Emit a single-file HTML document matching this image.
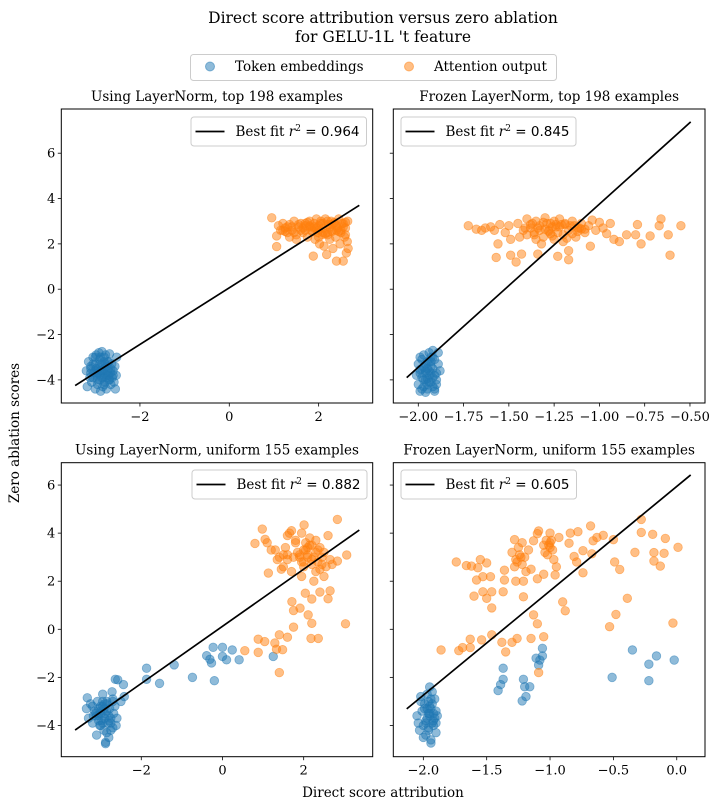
<!DOCTYPE html>
<html><head><meta charset="utf-8">
<style>
html,body{margin:0;padding:0;background:#fff;}
svg{display:block;font-family:"DejaVu Serif","Liberation Serif",serif;}
</style></head>
<body>
<svg id="fig" width="725" height="810" viewBox="0 0 725 810" xmlns="http://www.w3.org/2000/svg">
<text x="383" y="23" font-size="15.5" text-anchor="middle">Direct score attribution versus zero ablation</text>
<text x="383" y="42" font-size="15.5" text-anchor="middle">for GELU-1L 't feature</text>
<g>
<rect x="190.5" y="54.5" width="366" height="26" rx="3" fill="#fff" stroke="#ccc"/>
<g>
<circle cx="210" cy="66.5" r="4.5" fill="#1f77b4" fill-opacity="0.5" stroke="#1f77b4" stroke-opacity="0.5"/>
<text x="235" y="71" font-size="13.5">Token embeddings</text></g>
<g>
<circle cx="409" cy="66.5" r="4.5" fill="#ff7f0e" fill-opacity="0.5" stroke="#ff7f0e" stroke-opacity="0.5"/>
<text x="434" y="71" font-size="13.5">Attention output</text></g>
</g>
<text transform="translate(19,433) rotate(-90)" font-size="13.5" text-anchor="middle">Zero ablation scores</text>
<text x="383" y="797" font-size="13.5" text-anchor="middle">Direct score attribution</text>
</svg>
<script>
// ---------- Panel 1 data: Using LayerNorm, top 198 ----------
const p1BlueX = [-3.2,-3.18,-3.15,-3.12,-3.1,-3.08,-3.05,-3.03,-3.0,-3.0,-2.98,-2.96,-2.95,-2.93,-2.92,-2.9,-2.9,-2.88,-2.87,-2.85,-2.85,-2.83,-2.82,-2.8,-2.8,-2.78,-2.77,-2.75,-2.75,-2.73,-2.72,-2.7,-2.7,-2.68,-2.66,-2.65,-2.63,-2.62,-2.6,-2.58,-2.56,-2.55,-2.53,-2.52,-3.1,-3.0,-2.9,-2.8,-2.7,-2.95,-2.85,-3.05,-3.0,-2.9,-2.8,-2.7,-2.95,-2.85,-2.75,-2.65,-3.05,-2.9,-2.8,-2.72,-2.88,-2.78,-2.98,-2.68,-2.6,-3.1];
const p1BlueY = [-3.6,-4.3,-3.2,-3.9,-3.5,-4.1,-3.0,-3.7,-4.4,-3.3,-2.9,-3.8,-4.2,-3.5,-2.8,-4.0,-3.1,-4.5,-3.6,-2.75,-3.3,-4.3,-3.9,-3.0,-3.7,-4.1,-2.9,-3.4,-4.4,-3.8,-3.2,-4.0,-3.5,-2.85,-3.7,-4.2,-3.3,-3.9,-3.6,-4.1,-3.4,-4.4,-3.8,-3.0,-3.4,-3.6,-3.8,-3.5,-3.2,-4.0,-3.9,-3.3,-3.0,-3.3,-3.2,-3.8,-3.7,-3.6,-3.9,-3.5,-3.9,-3.6,-4.2,-3.6,-3.0,-3.3,-3.5,-4.0,-3.8,-3.7];
const p1OrangeX = [0.95,1.06,1.06,1.1,1.15,1.2,1.25,1.3,1.35,1.4,1.45,1.5,1.55,1.6,1.65,1.7,1.75,1.8,1.85,1.88,1.9,1.92,1.95,1.98,2.0,2.02,2.05,2.08,2.1,2.12,2.15,2.18,2.2,2.22,2.25,2.28,2.3,2.32,2.35,2.38,2.4,2.42,2.45,2.48,2.5,2.52,2.55,2.58,2.6,2.62,2.64,2.66,2.6,2.55,2.65,1.5,1.7,2.0,2.3,1.35,1.9,2.1,2.4,1.8,2.2,1.2,1.3,1.45,1.55,1.65,1.75,1.85,1.95,2.05,2.15,2.25,2.35,2.45,2.55,1.6,1.8,2.0,2.2,2.4,1.7,1.9,2.1,2.3,2.5,1.4,1.25,2.6];
const p1OrangeY = [3.15,2.35,1.88,2.8,2.6,2.9,2.7,2.5,2.85,2.6,3.0,2.4,2.75,2.9,2.5,2.8,2.3,3.0,2.6,1.46,2.9,2.2,3.1,2.5,2.8,2.0,3.0,2.4,2.7,1.9,3.1,1.53,2.5,2.85,2.2,3.0,2.6,1.8,2.9,2.3,1.24,2.7,3.1,2.0,2.5,2.9,1.24,2.3,2.7,1.6,2.1,1.8,2.4,2.9,3.0,2.2,2.6,2.3,2.85,2.3,2.7,2.9,2.6,2.75,2.4,2.6,2.75,2.5,2.85,2.7,2.95,2.55,2.7,2.9,2.45,2.75,2.95,2.55,2.75,2.6,2.8,2.6,3.0,2.8,2.9,2.75,2.5,2.55,2.6,2.75,2.55,2.95];
const p1LineX = [-3.45, 2.91];
const p1LineY = [-4.25, 3.70];
const p1XTicks = [-2, 0, 2];
const p1XTickLabels = ["−2", "0", "2"];
const yTicksTop = [-4, -2, 0, 2, 4, 6];
const yTickLabelsTop = ["−4", "−2", "0", "2", "4", "6"];

// ---------- Panel 2 data: Frozen LayerNorm, top 198 ----------
const p2BlueX = [-2.01,-2.0,-2.0,-1.99,-1.99,-1.98,-1.98,-1.97,-1.97,-1.96,-1.96,-1.95,-1.95,-1.94,-1.94,-1.93,-1.93,-1.92,-1.92,-1.91,-1.91,-1.9,-1.9,-1.89,-1.89,-1.88,-1.97,-1.95,-1.93,-1.91,-1.96,-1.94,-1.92,-1.99,-1.9,-1.98,-1.96,-1.94,-1.92,-1.95,-1.93,-1.97,-1.91,-1.99,-1.95,-1.93,-1.96,-1.94,-1.92,-1.98];
const p2BlueY = [-3.8,-4.2,-3.3,-4.5,-3.0,-3.9,-3.5,-4.3,-2.9,-3.7,-4.0,-3.2,-4.4,-3.6,-2.8,-4.1,-3.4,-3.9,-2.7,-4.5,-3.1,-3.7,-4.2,-3.3,-2.8,-3.6,-3.45,-3.95,-3.0,-4.4,-4.55,-3.2,-3.5,-3.55,-4.0,-3.1,-3.3,-3.8,-3.0,-3.5,-3.7,-4.0,-3.8,-3.7,-4.2,-3.2,-3.6,-4.1,-4.3,-4.4];
const p2OrangeX = [-1.724,-1.68,-1.63,-1.58,-1.55,-1.56,-1.57,-1.49,-1.46,-1.43,-1.49,-1.34,-1.23,-1.17,-1.17,-1.05,-0.89,-0.77,-0.72,-0.62,-0.61,-0.55,-0.66,-0.67,-0.79,-0.8,-0.85,-0.92,-0.94,-1.0,-1.5,-1.45,-1.42,-1.4,-1.38,-1.36,-1.35,-1.33,-1.31,-1.3,-1.28,-1.27,-1.25,-1.24,-1.22,-1.2,-1.19,-1.17,-1.15,-1.13,-1.11,-1.1,-1.08,-1.06,-1.04,-1.02,-1.4,-1.35,-1.3,-1.25,-1.2,-1.15,-1.1,-1.37,-1.32,-1.27,-1.22,-1.18,-1.12,-1.44,-1.52,-1.6,-1.65,-0.98,-0.96,-1.38,-1.34,-1.29,-1.26,-1.21,-1.16,-1.12,-1.08,-1.33,-1.28,-1.23,-1.19,-1.14,-1.41,-1.36,-1.31,-1.26,-1.24];
const p2OrangeY = [2.8,2.65,2.7,2.6,2.85,2.0,1.4,1.5,1.2,1.55,2.2,1.55,1.45,1.3,1.7,1.9,2.1,2.0,2.35,2.4,1.5,2.8,3.1,2.8,2.85,2.4,2.4,2.2,2.9,2.95,2.8,2.9,2.6,3.1,2.7,2.5,3.0,2.8,2.3,3.15,2.6,2.9,2.2,2.75,3.1,2.4,2.85,2.6,3.0,2.3,2.7,2.9,2.5,2.8,3.05,2.6,2.4,2.2,2.65,3.0,2.1,2.45,2.65,2.9,2.0,2.45,2.75,2.25,2.55,2.3,2.5,2.75,2.6,2.7,2.45,2.85,2.7,2.9,2.75,2.85,2.8,2.7,2.65,2.6,2.55,2.5,2.9,2.8,2.7,2.4,2.95,2.35,2.85];
const p2LineX = [-2.064, -0.496];
const p2LineY = [-3.90, 7.38];
const p2XTicks = [-2.0, -1.75, -1.5, -1.25, -1.0, -0.75, -0.5];
const p2XTickLabels = ["−2.00", "−1.75", "−1.50", "−1.25", "−1.00", "−0.75", "−0.50"];

// ---------- Panel 3 data: Using LayerNorm, uniform 155 ----------
const p3BlueX = [-1.87,-1.87,-1.55,-1.19,-0.74,-0.2,-0.39,-0.31,-0.23,0.0,0.0,0.1,0.24,0.41,-0.27,1.25,-2.64,-2.58,-2.44,-2.42,-2.5,-3.33,-3.35,-3.3,-3.25,-3.2,-3.15,-3.1,-3.08,-3.05,-3.02,-3.0,-2.98,-2.95,-2.92,-2.9,-2.88,-2.85,-2.82,-2.8,-2.78,-2.75,-2.72,-2.7,-2.68,-2.65,-2.62,-2.6,-3.12,-3.0,-2.9,-2.8,-2.95,-3.05,-2.85,-2.75,-3.18,-2.92,-3.0,-2.7,-2.88,-3.05,-2.95,-2.85,-2.9,-3.0,-2.8,-3.1,-2.95,-2.85,-2.75,-3.2,-2.7];
const p3BlueY = [-1.62,-2.08,-2.25,-1.48,-2.0,-2.14,-1.1,-1.25,-0.75,-0.75,-1.13,-1.27,-0.86,-1.27,-1.4,-1.13,-2.08,-2.1,-2.3,-2.8,-3.0,-2.85,-3.3,-3.7,-3.1,-3.9,-3.4,-4.4,-3.0,-3.6,-4.0,-3.2,-3.8,-2.7,-4.2,-3.5,-4.7,-3.0,-3.9,-4.5,-3.3,-3.7,-2.6,-4.1,-3.5,-3.2,-4.0,-3.7,-3.5,-3.4,-3.1,-3.6,-3.9,-3.8,-4.3,-4.2,-3.6,-3.3,-4.0,-3.0,-4.76,-3.3,-3.2,-3.4,-3.7,-3.5,-3.8,-3.6,-3.0,-3.1,-3.9,-3.2,-2.9];
const p3OrangeX = [2.83,0.98,2.01,0.8,1.05,3.06,2.83,1.13,1.71,1.75,1.91,2.04,2.2,2.11,2.2,1.75,3.03,2.18,2.36,2.4,2.6,2.65,1.4,1.6,0.88,1.04,0.88,0.55,1.29,1.48,1.33,1.4,1.3,1.4,1.5,1.6,1.7,1.8,1.9,2.0,2.1,2.2,2.3,2.4,2.5,2.6,2.7,1.35,1.55,1.75,1.95,2.15,2.35,2.55,1.45,1.65,1.85,2.05,2.25,2.45,2.65,1.2,1.1,1.95,2.1,2.3,1.8,2.0,2.2,1.6,2.4,2.5,1.9,1.7,2.05,2.15,2.25,2.35,1.95,2.1,2.3,2.45,1.5,1.6,2.2,2.0];
const p3OrangeY = [4.57,4.17,4.34,3.57,3.74,3.09,2.84,2.34,1.15,0.78,0.88,1.5,1.26,0.6,0.25,0.09,0.23,-0.38,-0.38,1.55,1.27,1.6,-0.23,-0.33,-0.41,-0.51,-0.96,-0.89,-0.57,-0.85,-0.83,-1.8,3.3,3.0,2.6,3.9,2.4,3.6,3.1,2.8,3.4,2.9,3.7,2.5,3.2,3.9,2.7,2.9,3.4,3.0,2.2,3.8,3.3,2.6,2.5,4.0,3.2,3.6,2.0,3.0,2.9,3.3,3.6,4.0,3.1,2.4,3.7,2.6,3.5,3.1,3.4,2.2,3.0,4.1,3.3,3.5,3.0,2.8,2.8,3.0,3.2,2.7,3.1,2.9,2.7,3.3];
const p3LineX = [-3.63, 3.37];
const p3LineY = [-4.19, 4.13];
const p3XTicks = [-2, 0, 2];
const p3XTickLabels = ["−2", "0", "2"];
const yTicksBottom = [-4, -2, 0, 2, 4, 6];
const yTickLabelsBottom = ["−4", "−2", "0", "2", "4", "6"];

// ---------- Panel 4 data: Frozen LayerNorm, uniform 155 ----------
const p4BlueX = [-1.37,-1.37,-1.39,-1.41,-1.21,-1.2,-1.16,-1.19,-1.22,-1.11,-1.09,-1.06,-1.08,-1.06,-0.35,-0.16,-0.22,-0.02,-0.51,-0.22,-2.05,-2.03,-2.02,-2.0,-1.99,-1.98,-1.97,-1.96,-1.95,-1.94,-1.93,-1.92,-1.91,-1.9,-1.89,-2.04,-2.01,-1.98,-1.95,-1.92,-1.9,-2.02,-1.97,-1.93,-2.0,-1.96,-1.94,-1.91,-1.99,-1.95,-1.97,-1.95,-1.93,-1.96,-1.94,-1.92,-1.98,-1.96,-1.94,-1.9];
const p4BlueY = [-1.62,-2.08,-2.3,-2.55,-2.08,-2.39,-2.39,-2.8,-2.98,-1.2,-1.49,-0.79,-1.28,-1.11,-0.86,-1.11,-1.45,-1.28,-2.0,-2.14,-3.6,-4.2,-3.0,-4.5,-3.3,-3.9,-2.7,-4.1,-3.5,-4.6,-3.1,-3.8,-2.9,-4.3,-3.6,-3.9,-3.4,-4.4,-3.2,-4.0,-3.4,-2.8,-3.7,-2.6,-4.0,-3.5,-4.73,-3.7,-3.1,-2.4,-3.3,-3.6,-3.9,-3.0,-3.3,-3.5,-3.8,-4.2,-2.9,-3.9];
const p4OrangeX = [-1.86,-1.72,-1.69,-1.63,-1.63,-1.54,-1.46,-1.38,-1.35,-1.3,-1.26,-1.15,-1.05,-1.09,-1.13,-1.1,-1.46,-1.6,-1.5,-1.46,-1.53,-1.37,-1.21,-0.9,-0.88,-0.53,-0.48,-0.39,-0.03,-1.74,-1.66,-1.62,-1.57,-1.55,-1.5,-1.58,-1.53,-1.47,-1.36,-1.36,-1.27,-1.21,-1.1,-1.05,-0.96,-0.95,-0.74,-0.74,-0.68,-0.84,-0.78,-0.66,-0.63,-0.58,-0.5,-0.49,-0.45,-0.33,-0.28,-0.28,-0.19,-0.09,0.01,-0.18,-0.1,-0.18,-0.13,-0.79,-0.67,-0.81,-0.85,-0.93,-1.0,-1.09,-1.1,-1.28,-1.22,-1.13,-1.3,-1.27,-1.25,-1.22,-1.2,-1.17,-1.15,-1.05,-1.02,-1.0,-0.98,-0.97,-1.28,-1.24,-1.19,-1.03,-1.0,-1.26,-1.23,-1.01,-0.99,-1.04];
const p4OrangeY = [-0.86,-0.89,-0.76,-0.41,-0.76,-0.44,-0.23,-0.54,-0.94,-0.54,-0.38,-0.38,-0.31,-1.8,0.6,0.23,0.89,1.38,1.29,1.56,1.56,1.56,1.35,1.14,0.77,0.11,0.62,1.29,0.26,2.8,2.65,2.63,2.56,2.9,2.76,2.05,2.19,2.19,2.05,2.46,2.0,2.0,2.1,2.29,2.26,2.6,2.35,3.27,4.3,4.0,4.06,3.68,3.82,3.91,3.73,2.8,2.49,3.2,4.57,4.03,3.95,3.78,3.41,3.19,3.16,2.84,2.63,2.8,3.14,3.03,3.58,3.82,4.0,4.09,3.98,3.73,3.6,3.68,3.2,2.9,3.4,2.7,3.0,3.3,2.5,3.5,3.1,3.6,3.3,2.9,2.6,3.1,2.4,3.7,3.4,2.8,3.0,3.5,3.7,3.2];
const p4LineX = [-2.131, 0.11];
const p4LineY = [-3.31, 6.42];
const p4XTicks = [-2.0, -1.5, -1.0, -0.5, 0.0];
const p4XTickLabels = ["−2.0", "−1.5", "−1.0", "−0.5", "0.0"];

const NS = "http://www.w3.org/2000/svg";
const fig = document.getElementById("fig");
function mk(tag, attrs, parent) {
  const e = document.createElementNS(NS, tag);
  for (const k in attrs) e.setAttribute(k, attrs[k]);
  (parent || fig).appendChild(e);
  return e;
}

function panel(opt) {
  const g = mk("g", {});
  
  
  const L = opt.box[0], T = opt.box[1], R = opt.box[2], B = opt.box[3];
  const sx = v => L + (v - opt.xr[0]) / (opt.xr[1] - opt.xr[0]) * (R - L);
  const sy = v => B - (v - opt.yr[0]) / (opt.yr[1] - opt.yr[0]) * (B - T);

  const title = mk("text", {x: (L + R) / 2, y: T - 8, "font-size": 13.5, "text-anchor": "middle"}, g);
  title.textContent = opt.title;
  
  

  const clip = "clip-" + opt.name;
  const cp = mk("clipPath", {id: clip}, g);
  mk("rect", {x: L, y: T, width: R - L, height: B - T}, cp);

  const pts = mk("g", {"clip-path": "url(#" + clip + ")"}, g);
  
  
  function scatter(xs, ys, color, nm) {
    for (let i = 0; i < xs.length; i++) {
      const c = mk("circle", {cx: sx(xs[i]), cy: sy(ys[i]), r: 4.3, fill: color, "fill-opacity": 0.5, stroke: color, "stroke-opacity": 0.5, "stroke-width": 0.8}, pts);
      
      
    }
  }
  scatter(opt.bx, opt.by, "#1f77b4", "token-embedding-point");
  scatter(opt.ox, opt.oy, "#ff7f0e", "attention-output-point");

  const ln = mk("line", {x1: sx(opt.lx[0]), y1: sy(opt.ly[0]), x2: sx(opt.lx[1]), y2: sy(opt.ly[1]), stroke: "#000", "stroke-width": 1.7}, pts);
  
  

  const frame = mk("rect", {x: L, y: T, width: R - L, height: B - T, fill: "none", stroke: "#000", "stroke-width": 1}, g);
  
  

  for (let i = 0; i < opt.xt.length; i++) {
    const x = sx(opt.xt[i]);
    const t = mk("line", {x1: x, y1: B, x2: x, y2: B + 3.5, stroke: "#000", "stroke-width": 0.8}, g);
    
    
    const lb = mk("text", {x: x, y: B + 18, "font-size": 13, "text-anchor": "middle"}, g);
    lb.textContent = opt.xtl[i];
    
    
  }
  for (let i = 0; i < opt.yt.length; i++) {
    const y = sy(opt.yt[i]);
    const t = mk("line", {x1: L - 3.5, y1: y, x2: L, y2: y, stroke: "#000", "stroke-width": 0.8}, g);
    
    
    if (opt.ytl) {
      const lb = mk("text", {x: L - 6, y: y + 4.5, "font-size": 13, "text-anchor": "end"}, g);
      lb.textContent = opt.ytl[i];
      
      
    }
  }

  const lg = mk("g", {}, g);
  
  
  const lx = opt.leg[0], ly = opt.leg[1], lw = opt.leg[2];
  mk("rect", {x: lx + 0.5, y: ly + 0.5, width: lw, height: 29, rx: 3, fill: "#fff", "fill-opacity": 0.8, stroke: "#ccc"}, lg);
  mk("line", {x1: lx + 5, y1: ly + 15, x2: lx + 34, y2: ly + 15, stroke: "#000", "stroke-width": 1.7}, lg);
  const tx = mk("text", {x: lx + 45, y: ly + 19.5, "font-size": 13.5}, lg);
  tx.innerHTML = 'Best fit <tspan font-style="italic" font-family="DejaVu Serif, serif">r</tspan><tspan dy="-5" font-size="9">2</tspan><tspan dy="5" font-family="DejaVu Sans, Liberation Sans, sans-serif"> = ' + opt.r2 + '</tspan>';
  
  
}

const yrTop = [-5.02, 7.95];
const yrBottom = [-5.30, 6.93];

panel({name: "panel-layernorm-top", title: "Using LayerNorm, top 198 examples", box: [61.3, 109, 372.7, 403],
  xr: [-3.76, 3.21], yr: yrTop, bx: p1BlueX, by: p1BlueY, ox: p1OrangeX, oy: p1OrangeY, lx: p1LineX, ly: p1LineY,
  xt: p1XTicks, xtl: p1XTickLabels, yt: yTicksTop, ytl: yTickLabelsTop, leg: [190.5, 116.5, 175.5], r2: "0.964"});
panel({name: "panel-frozen-top", title: "Frozen LayerNorm, top 198 examples", box: [393.3, 109, 705, 403],
  xr: [-2.138, -0.417], yr: yrTop, bx: p2BlueX, by: p2BlueY, ox: p2OrangeX, oy: p2OrangeY, lx: p2LineX, ly: p2LineY,
  xt: p2XTicks, xtl: p2XTickLabels, yt: yTicksTop, ytl: null, leg: [400.5, 116.5, 175], r2: "0.845"});
panel({name: "panel-layernorm-uniform", title: "Using LayerNorm, uniform 155 examples", box: [61.3, 462.7, 372.7, 756.7],
  xr: [-3.97, 3.70], yr: yrBottom, bx: p3BlueX, by: p3BlueY, ox: p3OrangeX, oy: p3OrangeY, lx: p3LineX, ly: p3LineY,
  xt: p3XTicks, xtl: p3XTickLabels, yt: yTicksBottom, ytl: yTickLabelsBottom, leg: [191.5, 469.5, 175], r2: "0.882"});
panel({name: "panel-frozen-uniform", title: "Frozen LayerNorm, uniform 155 examples", box: [393.3, 462.7, 705, 756.7],
  xr: [-2.237, 0.223], yr: yrBottom, bx: p4BlueX, by: p4BlueY, ox: p4OrangeX, oy: p4OrangeY, lx: p4LineX, ly: p4LineY,
  xt: p4XTicks, xtl: p4XTickLabels, yt: yTicksBottom, ytl: null, leg: [400.5, 469.5, 175.5], r2: "0.605"});
</script>
</body></html>
